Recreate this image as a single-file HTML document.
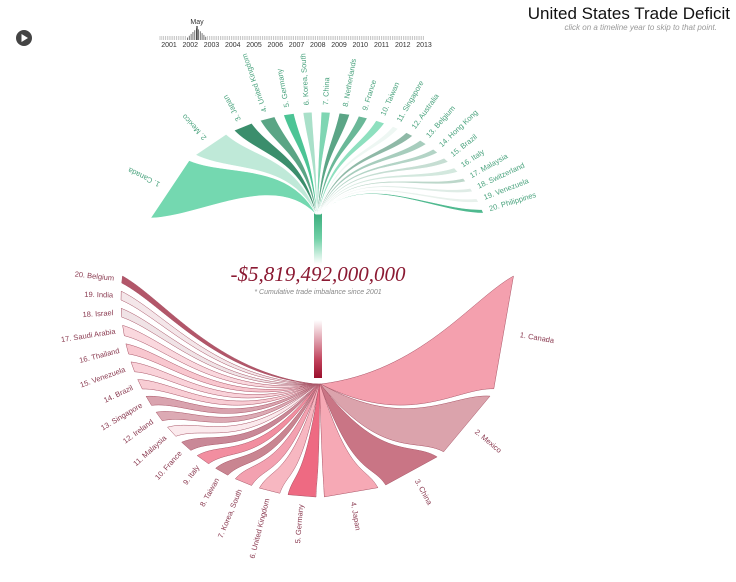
<!DOCTYPE html>
<html><head><meta charset="utf-8"><style>
body{margin:0;background:#fff;width:736px;height:582px;overflow:hidden;font-family:"Liberation Sans",sans-serif}
svg{display:block}
</style></head><body>
<svg id="c" width="736" height="582">
<defs>
<linearGradient id="gs" x1="0" y1="0" x2="0" y2="1"><stop offset="0" stop-color="#1f9a66"/><stop offset="0.6" stop-color="#6fd0a6"/><stop offset="1" stop-color="#fff"/></linearGradient>
<linearGradient id="rs" x1="0" y1="0" x2="0" y2="1"><stop offset="0" stop-color="#fff"/><stop offset="0.7" stop-color="#c0405a"/><stop offset="1" stop-color="#9a0f2c"/></linearGradient>
</defs>
<g><circle cx="24" cy="38" r="8" fill="#444"/><path d="M21.5 34 L28 38 L21.5 42Z" fill="#fff"/></g>
<g id="timeline"></g>
<text x="730" y="19" text-anchor="end" font-size="17" fill="#111">United States Trade Deficit</text>
<text x="717" y="30" text-anchor="end" font-size="8" font-style="italic" fill="#999">click on a timeline year to skip to that point.</text>
<rect x="314" y="200" width="8" height="64" fill="url(#gs)"/>
<rect x="314" y="320" width="8" height="58" fill="url(#rs)"/>
<g id="green"></g><g id="red"></g>
<text x="318" y="281" text-anchor="middle" font-family="'Liberation Serif',serif" font-style="italic" font-size="21" fill="#8b1a33">-$5,819,492,000,000</text>
<text x="318" y="294" text-anchor="middle" font-size="7" font-style="italic" fill="#888">* Cumulative trade imbalance since 2001</text>
</svg>
<script>
const years=["2001","2002","2003","2004","2005","2006","2007","2008","2009","2010","2011","2012","2013"];
const greenNames=["1. Canada","2. Mexico","3. Japan","4. United Kingdom","5. Germany","6. Korea, South","7. China","8. Netherlands","9. France","10. Taiwan","11. Singapore","12. Australia","13. Belgium","14. Hong Kong","15. Brazil","16. Italy","17. Malaysia","18. Switzerland","19. Venezuela","20. Philippines"];
const greenValues=[26,13,6.5,5,3.5,3,3,3.5,3,3,2,2.5,2.5,2,2,2,1.5,1.5,1.5,1.5];
const greenColors=["#74d8b0","#bfe9d8","#3b8e6c","#5aa585","#4cc495","#a9e0c9","#7fd6b3","#5ba586","#6ab898","#8ee0bf","#eef7f3","#8fb9a7","#a7cdbd","#b3d4c6","#c6ded3","#d3e8de","#bcd7ca","#dfece6","#e8f1ec","#4fb98f"];
const redNames=["1. Canada","2. Mexico","3. China","4. Japan","5. Germany","6. United Kingdom","7. Korea, South","8. Taiwan","9. Italy","10. France","11. Malaysia","12. Ireland","13. Singapore","14. Brazil","15. Venezuela","16. Thailand","17. Saudi Arabia","18. Israel","19. India","20. Belgium"];
const redValues=[33,20.7,16.7,15.5,8,6,5,4,4,3.5,3.5,3,3,3,3,3,3,2.5,2.5,2];
const redColors=["#f4a0ae","#dba3ac","#c97585","#f6a9b5","#ee6a82","#f7b7c1","#f3a1b0","#c98591","#f28ea0","#c98897","#fbeaed","#dcaab4","#d9a3ae","#f8cdd4","#f9d2d9","#f8c7cf","#fad8de","#f0e3e6","#f4e6e9","#b25669"];
const NS="http://www.w3.org/2000/svg";
function mk(t,a,p){const e=document.createElementNS(NS,t);for(const k in a)e.setAttribute(k,a[k]);p.appendChild(e);return e;}
const tl=document.getElementById('timeline');
const yx=i=>169+i*21.25;
years.forEach((y,i)=>{const t=mk('text',{x:yx(i),y:47,'text-anchor':'middle','font-size':'7',fill:'#333'},tl);t.textContent=y;

});
for(let m=0;m<=144;m++){const x=yx(0)-9+m*1.83;const d=Math.abs(x-197);const h=d<10?12-d:4;
mk('line',{x1:x,x2:x,y1:40-h,y2:40,stroke:d<10?'#555':'#bbb','stroke-width':'0.8'},tl);}
mk('line',{x1:197,x2:197,y1:26,y2:40,stroke:'#000','stroke-width':'1'},tl);
const may=mk('text',{x:197,y:24,'text-anchor':'middle','font-size':'7',fill:'#333'},tl);may.textContent='May';


function f(n){return n.toFixed(1);}
const D=Math.PI/180;
// green
const G=document.getElementById('green');
const gc={x:318,y:262,rx:175,ry:150},gRy=214;
const gAngle=(a)=>({x:gc.x+gc.rx*Math.sin(a*D),y:gc.y-gc.ry*Math.cos(a*D)});
const gSum=greenValues.reduce((a,b)=>a+b,0),gStart=-73,gEnd=71,gGap=3;
const gScale=(gEnd-gStart-gGap*(greenValues.length-1))/gSum;
function gEdge(E,rx,ang){const phi=(-90+ang*0.6)*D;
const p2={x:rx+60*Math.cos(phi),y:gRy+60*Math.sin(phi)};
const p1={x:E.x+(rx-E.x)*0.3,y:E.y+(gRy-E.y)*0.3};return [p1,p2];}
let a=gStart;
greenValues.forEach((v,i)=>{const a0=a,a1=a+v*gScale;a=a1+gGap;
const E0=gAngle(a0),E1=gAngle(a1);const rx0=315.5+i*0.25,rx1=rx0+0.6;
const [p1,p2]=gEdge(E0,rx0,a0),[q1,q2]=gEdge(E1,rx1,a1);
const d=`M${f(E0.x)},${f(E0.y)} C${f(p1.x)},${f(p1.y)} ${f(p2.x)},${f(p2.y)} ${f(rx0)},${gRy} L${f(rx1)},${gRy} C${f(q2.x)},${f(q2.y)} ${f(q1.x)},${f(q1.y)} ${f(E1.x)},${f(E1.y)} Z`;
const p=mk('path',{d,fill:greenColors[i],stroke:'#fff','stroke-width':'0.6'},G);


const am=(a0+a1)/2,M=gAngle(am);const ang=Math.atan2(M.y-gc.y,M.x-gc.x);
const L={x:M.x+7*Math.cos(ang),y:M.y+7*Math.sin(ang)};
const t=mk('text',{x:f(L.x),y:f(L.y),'font-size':'7.5',fill:'#4aa37e','dominant-baseline':'middle',transform:`rotate(${f(ang/D)} ${f(L.x)} ${f(L.y)})`},G);t.textContent=greenNames[i];

});
// red
const R=document.getElementById('red');
const rc={x:318,y:300,r:197},rRy=384;
const rAngle=(a)=>({x:rc.x+rc.r*Math.cos(a*D),y:rc.y+rc.r*Math.sin(a*D)});
const rSum=redValues.reduce((a,b)=>a+b,0),rStart=-7,rEnd=187,rGap=2.4;
const rScale=(rEnd-rStart-rGap*(redValues.length-1))/rSum;
function rEdge(E,rx,ang){const phi=ang*D;
const p2={x:rx+100*Math.cos(phi),y:rRy+100*Math.sin(phi)};
const p1={x:E.x+(rx-E.x)*0.22,y:E.y+(rRy-E.y)*0.22};return [p1,p2];}
a=rStart;
redValues.forEach((v,i)=>{const a0=a,a1=a+v*rScale;a=a1+rGap;
const E0=rAngle(a0),E1=rAngle(a1);const rx0=321-i*0.3,rx1=rx0-0.6;
const [p1,p2]=rEdge(E0,rx0,a0),[q1,q2]=rEdge(E1,rx1,a1);
const d=`M${f(E0.x)},${f(E0.y)} C${f(p1.x)},${f(p1.y)} ${f(p2.x)},${f(p2.y)} ${f(rx0)},${rRy} L${f(rx1)},${rRy} C${f(q2.x)},${f(q2.y)} ${f(q1.x)},${f(q1.y)} ${f(E1.x)},${f(E1.y)} Z`;
const p=mk('path',{d,fill:redColors[i],stroke:'#a85466','stroke-width':'0.5'},R);


const am=(a0+a1)/2,M=rAngle(am);const ar=am*D;
const L={x:M.x+8*Math.cos(ar),y:M.y+8*Math.sin(ar)};
const right=Math.cos(ar)>0.01;const rot=right?am:am-180;
const t=mk('text',{x:f(L.x),y:f(L.y),'font-size':'7.5',fill:'#8a3a50','dominant-baseline':'middle','text-anchor':right?'start':'end',transform:`rotate(${f(rot)} ${f(L.x)} ${f(L.y)})`},R);t.textContent=redNames[i];

});
</script>
</body></html>
